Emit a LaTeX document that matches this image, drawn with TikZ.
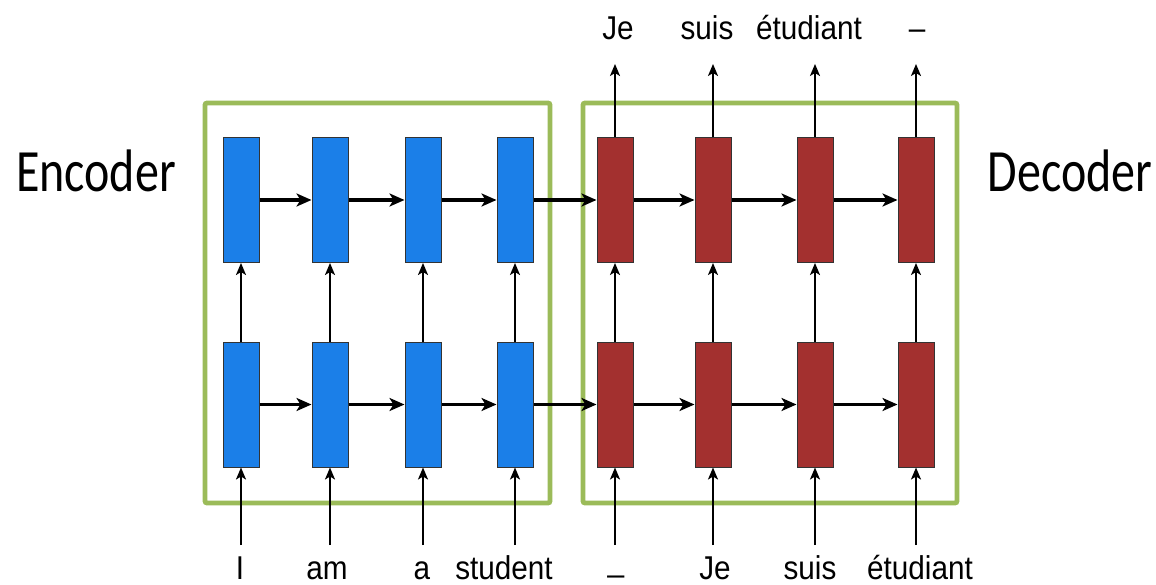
\documentclass[tikz,border=0pt]{standalone}
\usepackage{fontspec}
\setmainfont{Liberation Sans}
\newfontfamily\narrowsans[FakeStretch=0.9]{Liberation Sans}
\newfontfamily\calib[FakeStretch=0.8]{Carlito}
\usetikzlibrary{arrows.meta}
\definecolor{encblue}{HTML}{1B7FE8}
\definecolor{decred}{HTML}{A3302F}
\definecolor{boxgreen}{HTML}{9BBB59}
\tikzset{
  cell/.style={draw=black!80, line width=1pt, minimum width=36pt, minimum height=125pt, inner sep=0pt},
  enccell/.style={cell, fill=encblue},
  deccell/.style={cell, fill=decred},
  harrow/.style={line width=3.2pt, -{Stealth[length=15pt,width=13pt,inset=4pt]}},
  varrow/.style={line width=2pt, -{Stealth[length=12pt,width=10pt,inset=3pt]}},
  frame/.style={draw=boxgreen, line width=4.8pt, rounded corners=2pt},
  word/.style={font=\narrowsans\fontsize{33}{35}\selectfont, inner sep=0pt, anchor=base},
  title/.style={font=\calib\fontsize{60}{64}\selectfont, inner sep=0pt, anchor=base}
}
\begin{document}
\begin{tikzpicture}[x=1pt,y=-1pt]
\useasboundingbox (0,0) rectangle (1156,585);
\fill[white] (0,0) rectangle (1156,585);
% frames
\draw[frame] (205,103) rectangle (550,503);
\draw[frame] (583,103) rectangle (957,503);
% titles
\node[title] (enc) at (96,192) {Encoder};
\node[title] (dec) at (1070,192) {Decoder};
% cells
\foreach \i/\x in {1/241,2/330,3/423,4/515}{
  \node[enccell] (eT\i) at (\x,200) {};
  \node[enccell] (eB\i) at (\x,404.5) {};
}
\foreach \i/\x in {1/615,2/713,3/815,4/916}{
  \node[deccell] (dT\i) at (\x,200) {};
  \node[deccell] (dB\i) at (\x,404.5) {};
}
% horizontal arrows
\foreach \a/\b in {eT1/eT2,eT2/eT3,eT3/eT4,eT4/dT1,dT1/dT2,dT2/dT3,dT3/dT4,
                   eB1/eB2,eB2/eB3,eB3/eB4,eB4/dB1,dB1/dB2,dB2/dB3,dB3/dB4}{
  \draw[harrow] (\a.east) -- (\b.west);
}
% vertical arrows between layers
\foreach \i in {1,2,3,4}{
  \draw[varrow] (eB\i.north) -- (eT\i.south);
  \draw[varrow] (dB\i.north) -- (dT\i.south);
}
% input coordinates and arrows
\foreach \i/\x in {1/241,2/330,3/423,4/515}{
  \coordinate (ein\i) at (\x,545);
  \draw[varrow] (ein\i) -- (eB\i.south);
}
\foreach \i/\x in {1/615,2/713,3/815,4/916}{
  \coordinate (din\i) at (\x,545);
  \draw[varrow] (din\i) -- (dB\i.south);
  \coordinate (dout\i) at (\x,64);
  \draw[varrow] (dT\i.north) -- (dout\i);
}
% input words
\node[word] (w1) at (240,579) {I};
\node[word] (w2) at (327,579) {am};
\node[word] (w3) at (422,579) {a};
\node[word] (w4) at (504,579) {student};
\node[font=\narrowsans\fontsize{33}{35}\selectfont, inner sep=0pt] (w5) at (616,575) {\_};
\node[word] (w6) at (715,579) {Je};
\node[word] (w7) at (810,579) {suis};
\node[word] (w8) at (920,579) {étudiant};
% output words
\node[word] (o1) at (618,40) {Je};
\node[word] (o2) at (707,40) {suis};
\node[word] (o3) at (809,40) {étudiant};
\node[word] (o4) at (917,40) {–};
\end{tikzpicture}
\end{document}
